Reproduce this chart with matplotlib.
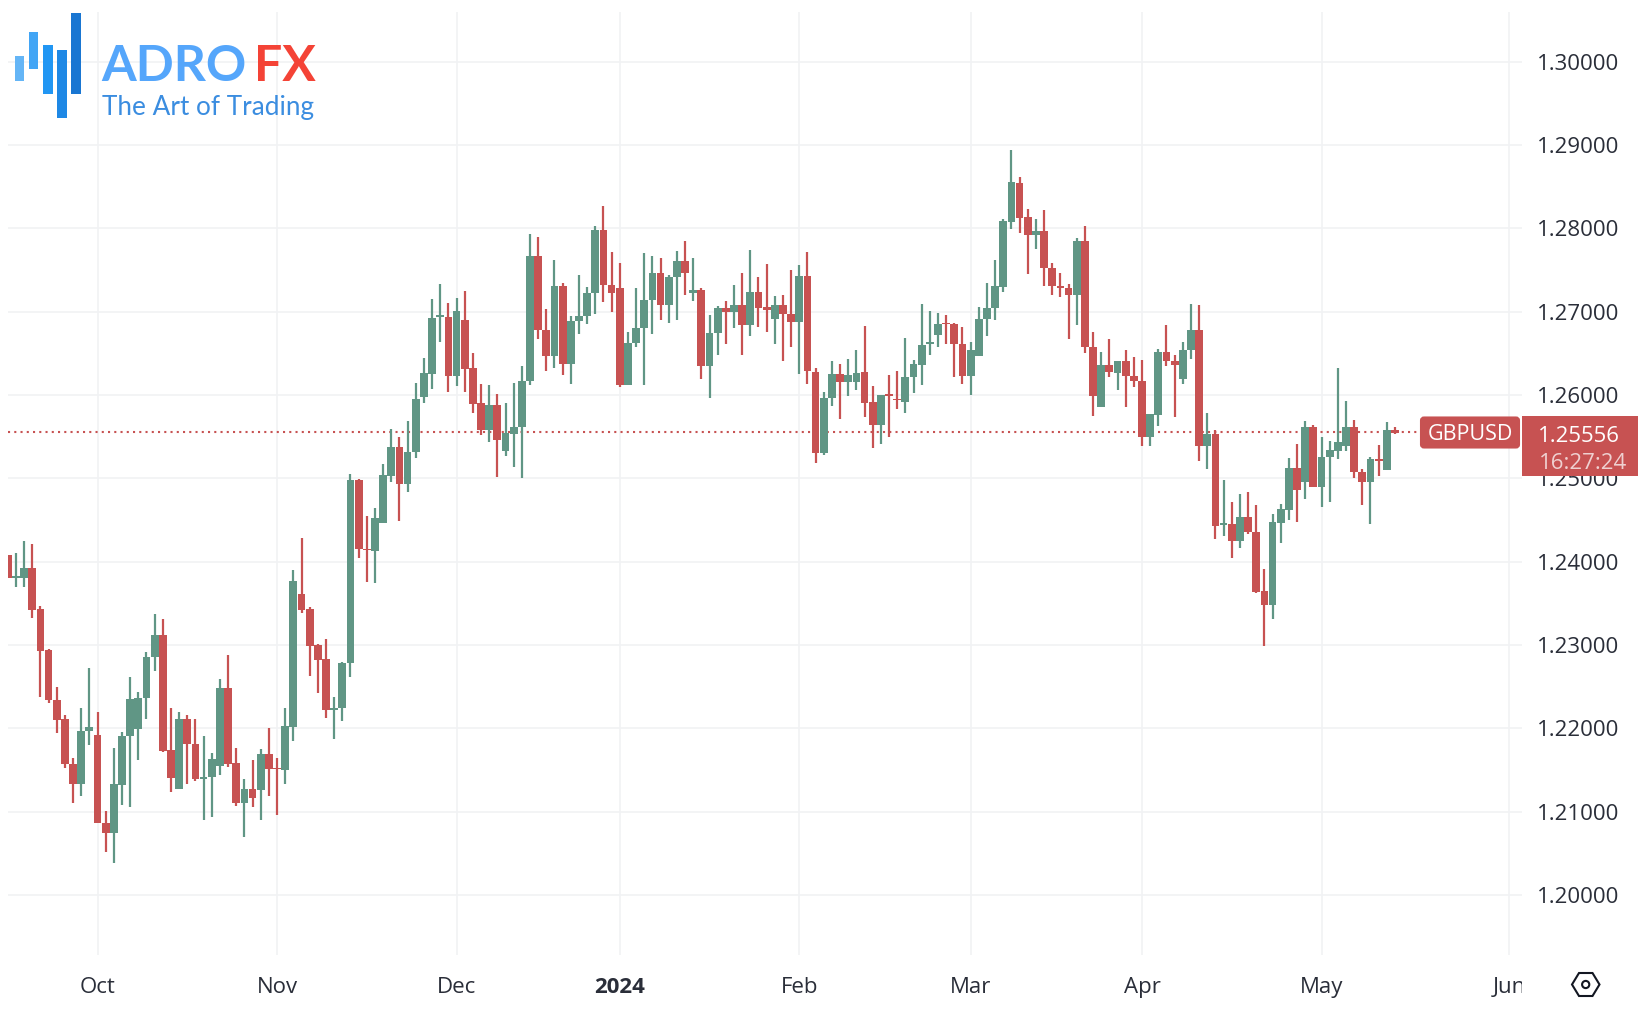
import numpy as np
import matplotlib
matplotlib.use("Agg")
import matplotlib.pyplot as plt
from matplotlib.patches import Rectangle, FancyBboxPatch, Polygon, Circle
from matplotlib.transforms import Affine2D

# GBPUSD daily candles, in 0.00001 price points
opens = [124080,123808,123808,123920,123428,122940,122340,122112,121568,121336,
         121968,121920,120860,120748,121324,121908,121996,122360,122852,123124,
         121736,121276,122108,121816,121396,121420,121544,122480,121580,121100,
         121268,121264,121688,121524,121496,122020,123616,123428,123000,122828,
         122220,122244,122780,124980,124156,124132,124468,125028,125372,124928,
         125312,125980,126256,126936,126936,126224,126896,126320,125900,125580,
         125876,125324,125536,125620,126164,127664,126784,126468,127312,126372,
         126884,126948,127224,127976,127324,127288,126116,126628,126804,127140,
         127460,127084,127412,127604,127224,127256,126348,126744,127040,126992,
         127076,126840,127240,127052,126908,127076,126968,126876,127424,126280,
         125308,125964,126256,126152,126160,126272,125912,125640,126008,125952,
         125916,126212,126364,126616,126724,126864,126848,126612,126232,126468,
         126916,127040,127300,128080,128540,128132,127916,127968,127524,127304,
         127280,127204,127852,126576,125860,126356,126268,126404,126228,126168,
         125496,125764,126516,126412,126196,126536,126776,125388,125528,124440,
         124452,124244,124532,124360,123644,123476,124468,124616,125128,124956,
         125620,124900,125252,125328,125388,125620,125080,124956,125232,125100,125576]
highs = [124080,124108,124248,124212,123468,122948,122492,122160,121640,122240,
         122720,122192,121012,121760,121960,122612,122436,122912,123368,123308,
         122248,122192,122156,122112,121908,121700,122588,122876,121760,121396,
         121620,121748,122004,121640,122248,123896,124280,123460,123008,123076,
         122376,122800,125048,124992,124548,124640,125168,125588,125492,125692,
         126148,126440,127148,127328,127100,127160,127244,126508,126132,126124,
         126008,125900,126148,126344,127928,127896,127032,127616,127344,126948,
         127440,127300,128024,128268,127720,127588,126760,127288,127708,127664,
         127648,127436,127732,127848,127648,127288,126960,127072,127132,127324,
         127460,127740,127416,127576,127184,127204,127496,127556,127720,126328,
         126032,126412,126376,126428,126540,126832,126112,126000,126236,126284,
         126680,126420,127088,127008,126988,126964,126860,126812,126636,127056,
         127348,127616,128108,128936,128620,128236,128108,128224,127580,127468,
         127328,127880,128024,126752,126520,126668,126408,126544,126452,126416,
         125776,126556,126836,126484,126636,127088,127076,125784,125584,124976,
         124712,124816,124840,124676,123916,124576,124696,125244,125408,125688,
         125636,125492,125444,126328,125932,125700,125108,125256,125404,125676,125620]
lows = [123800,123700,123700,123320,122372,122300,121940,121520,121100,121192,
        121800,120860,120516,120380,121076,121052,121624,122116,122688,121720,
        121232,121276,121336,121368,120904,120936,121436,121532,121064,120692,
        121052,120904,121192,120964,121336,121848,123388,122632,122420,122128,
        121868,122092,122620,124040,123760,123740,124460,124960,124492,124832,
        125240,125908,126072,126640,126036,126108,126040,125780,125524,125440,
        125020,125264,125136,125008,126116,126676,126288,126324,126244,126128,
        126732,126848,126976,127116,127000,126096,126116,126572,126116,126732,
        126896,126864,126896,127200,127128,126192,125964,126476,126612,126804,
        126484,126708,126812,126756,126612,126404,126580,126252,126132,125184,
        125276,125868,125716,125988,126056,125732,125360,125416,125492,125836,
        125788,126024,126116,126480,126572,126608,126220,126128,126000,126468,
        126712,126900,127236,127996,127948,127448,127752,127308,127200,127180,
        126676,126840,126508,125752,125860,126220,126060,125860,126092,125388,
        125388,125624,126344,125736,126136,126428,125204,125108,124268,124304,
        124044,124160,124328,123624,122988,123308,124224,124496,124480,124748,
        124900,124652,124712,125228,125328,125004,124680,124456,125024,125100,125532]
closes = [123800,123828,123920,123424,122932,122340,122104,121568,121336,121964,
          122016,120860,120748,121328,121908,122352,122360,122856,123124,121728,
          121408,122112,121816,121388,121420,121628,122480,121576,121100,121268,
          121160,121688,121512,121508,122024,123764,123424,122992,122824,122224,
          122244,122788,124980,124148,124140,124520,125036,125372,124928,125316,
          125948,126260,126928,126956,126224,127012,126316,125896,125580,125876,
          125464,125548,125620,126168,127664,126780,126468,127308,126372,126892,
          126948,127228,127976,127320,127224,126116,126628,126808,127144,127460,
          127080,127412,127604,127468,127256,126348,126748,127040,126992,127076,
          126840,127240,127048,127016,127076,126968,126876,127424,126288,125308,
          125968,126256,126152,126244,126268,125908,125640,126000,125992,125936,
          126216,126372,126600,126632,126848,126848,126612,126232,126544,126916,
          127044,127304,128088,128552,128128,127916,127968,127520,127312,127288,
          127204,127852,126576,125992,126356,126272,126404,126224,126172,125496,
          125768,126516,126404,126360,126540,126776,125392,125528,124428,124464,
          124248,124532,124352,123636,123476,124472,124628,125128,124864,125620,
          124900,125252,125336,125440,125620,125072,124956,125232,125204,125580,125544]

month_labels = ["Oct", "Nov", "Dec", "2024", "Feb", "Mar", "Apr", "May", "Jun"]
month_bars = [11, 33, 55, 75, 97, 118, 139, 161, 184]
price_ticks = [1.20, 1.21, 1.22, 1.23, 1.24, 1.25, 1.26, 1.27, 1.28, 1.29, 1.30]
last_price = 1.25556
symbol = "GBPUSD"
countdown = "16:27:24"

GREEN = "#609685"
RED = "#c75252"
GRID = "#f1f2f4"
TEXT = "#2a2e39"
W, H = 1638, 1016

plt.rcParams["font.family"] = ["Open Sans", "DejaVu Sans"]

o = np.array(opens) / 100000
h = np.array(highs) / 100000
l = np.array(lows) / 100000
c = np.array(closes) / 100000
bars = np.arange(len(o))
colors = [GREEN if c[i] >= o[i] else RED for i in bars]

fig = plt.figure(figsize=(W / 100, H / 100), dpi=100, facecolor="white")
px = Affine2D().scale(1, -1).translate(0, H)  # picture pixels, y from the top

# plot area in picture pixels
ax = fig.add_axes([8 / W, (H - 955) / H, (1522 - 8) / W, (955 - 12) / H])
ax.set_xlim(0.03, 185.57)
ax.set_ylim(1.1928, 1.30597)
for s in ax.spines.values():
    s.set_visible(False)

ax.set_xticks(month_bars)
ax.set_xticklabels(month_labels)
ax.set_yticks(price_ticks)
ax.set_yticklabels(["%.5f" % p for p in price_ticks])
ax.yaxis.tick_right()
ax.tick_params(axis="x", length=0, pad=16, labelsize=16, labelcolor=TEXT)
ax.tick_params(axis="y", length=0, pad=11, labelsize=16, labelcolor=TEXT)
ax.grid(True, color=GRID, linewidth=1.2)
ax.set_axisbelow(True)

# 2024 is bold
ax.get_xticklabels()[3].set_fontweight("bold")

# dotted last price line, it stops at the symbol tag
ax.axhline(last_price, xmax=(1419 - 8) / (1522 - 8), color=RED, linewidth=1.5,
           linestyle=(0, (1, 2)), zorder=1.5)

ax.vlines(bars, l, h, colors=colors, linewidth=1.6, zorder=2)
ax.bar(bars, np.abs(c - o), bottom=np.minimum(o, c), width=0.95, color=colors,
       linewidth=0, zorder=3)

# the Jun label runs under the settings area and is cut off
fig.add_artist(Rectangle((1522, 965), 30, 40, facecolor="white", edgecolor="none", transform=px))

# symbol and price tags
fig.add_artist(FancyBboxPatch((1421, 417.5), 98, 30, boxstyle="round,pad=0,rounding_size=3",
                              facecolor=RED, edgecolor=RED, linewidth=1.5, transform=px))
fig.add_artist(Rectangle((1522, 415.7), 116, 60, facecolor=RED, edgecolor="none", transform=px))
fig.text(1470 / W, 1 - 435 / H, symbol, color="white", fontsize=15.5, ha="center", va="center")
fig.text(1579 / W, 1 - 436 / H, "%.5f" % last_price, color="white", fontsize=16, ha="center", va="center")
fig.text(1583 / W, 1 - 463 / H, countdown, color="#efd0d0", fontsize=16, ha="center", va="center")

# chart settings icon
hexagon = [(1572, 984.5), (1579, 973), (1592.5, 973), (1599.5, 984.5), (1592.5, 996), (1579, 996)]
fig.add_artist(Polygon(hexagon, closed=True, fill=False, edgecolor="#131722", linewidth=1.5, transform=px))
fig.add_artist(Circle((1585.7, 984.5), 3.6, fill=False, edgecolor="#131722", linewidth=1.5, transform=px))

# logo
logo_bars = [(15, 24, 56, 81, "#64b5f6"), (29, 38, 32, 69, "#42a5f5"), (43, 53, 45, 94, "#2196f3"),
             (57, 67, 50, 118, "#1e88e5"), (71, 81, 13, 94, "#1976d2")]
for x0, x1, y0, y1, col in logo_bars:
    fig.add_artist(Rectangle((x0, y0), x1 - x0, y1 - y0, facecolor=col, edgecolor="none", transform=px))
fig.text(101 / W, 1 - 81 / H, "ADRO", color="#55a6fb", fontsize=36, family="Lato", weight="bold", va="baseline")
fig.text(254 / W, 1 - 81 / H, "FX", color="#f44336", fontsize=36, family="Lato", weight="bold", va="baseline")
fig.text(102 / W, 1 - 115 / H, "The Art of Trading", color="#3b8de0", fontsize=18.8, family="Lato", va="baseline")

fig.savefig("out.png", dpi=100)
